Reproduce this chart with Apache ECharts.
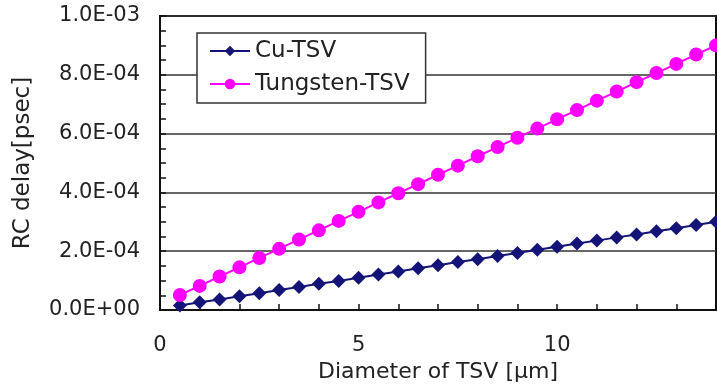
<!DOCTYPE html>
<html>
<head>
<meta charset="utf-8">
<script src="https://cdn.jsdelivr.net/npm/echarts@6/dist/echarts.min.js"></script>
<style>html,body{margin:0;padding:0;background:#fff}#c{width:717px;height:385px}</style>
</head>
<body>
<div id="c"></div>
<script>
var diameters = [0.5,1.0,1.5,2.0,2.5,3.0,3.5,4.0,4.5,5.0,5.5,6.0,6.5,7.0,7.5,8.0,8.5,9.0,9.5,10.0,10.5,11.0,11.5,12.0,12.5,13.0,13.5,14.0];
var cuDelay = [1.5e-5,2.6e-5,3.6e-5,4.7e-5,5.7e-5,6.8e-5,7.8e-5,8.9e-5,9.9e-5,1.10e-4,1.21e-4,1.31e-4,1.42e-4,1.52e-4,1.63e-4,1.73e-4,1.84e-4,1.94e-4,2.05e-4,2.15e-4,2.26e-4,2.36e-4,2.47e-4,2.57e-4,2.68e-4,2.78e-4,2.89e-4,3.00e-4];
var tungstenDelay = [5.1e-5,8.2e-5,1.14e-4,1.45e-4,1.77e-4,2.08e-4,2.40e-4,2.71e-4,3.03e-4,3.34e-4,3.66e-4,3.97e-4,4.28e-4,4.60e-4,4.91e-4,5.23e-4,5.54e-4,5.86e-4,6.17e-4,6.49e-4,6.80e-4,7.12e-4,7.43e-4,7.75e-4,8.06e-4,8.37e-4,8.69e-4,9.00e-4];
var seriesNames = ['Cu-TSV','Tungsten-TSV'];
var xTitle = 'Diameter of TSV [\u03bcm]';
var yTitle = 'RC delay[psec]';

function pairs(ys){ return diameters.map(function(d,i){ return [d, ys[i]]; }); }
function sci(v){
  if (Math.abs(v) < 1e-12) return '0.0E+00';
  var s = v.toExponential(1).split('e');
  var e = parseInt(s[1],10);
  var sign = e < 0 ? '-' : '+';
  var a = Math.abs(e);
  return s[0] + 'E' + sign + (a < 10 ? '0' + a : a);
}
var FONT = 'DejaVu Sans';
var chart = echarts.init(document.getElementById('c'));
chart.setOption({
  backgroundColor: '#fff',
  animation: false,
  grid: { left: 160, right: 1, top: 16, bottom: 75, show: true, borderColor: '#111', borderWidth: 2,
    backgroundColor: 'transparent', containLabel: false, outerBoundsMode: 'none' },
  legend: {
    orient: 'vertical', left: 197, top: 33,
    padding: [6, 16, 7, 12], itemGap: 9,
    itemWidth: 40, itemHeight: 13,
    backgroundColor: '#fff', borderColor: '#333', borderWidth: 1.5,
    textStyle: { fontFamily: FONT, fontSize: 23, color: '#222', lineHeight: 24 },
    data: seriesNames
  },
  xAxis: {
    type: 'value', min: 0, max: 14, interval: 1,
    name: xTitle, nameLocation: 'middle', nameGap: 51,
    nameTextStyle: { fontFamily: FONT, fontSize: 22, color: '#222' },
    axisLine: { lineStyle: { color: '#111', width: 2 } },
    axisTick: { inside: true, length: 6, lineStyle: { color: '#111', width: 1.5 } },
    axisLabel: { margin: 25, fontFamily: FONT, fontSize: 21, color: '#222',
      formatter: function(v){ return (v % 5 === 0 && v < 14) ? String(v) : ''; } },
    splitLine: { show: false }
  },
  yAxis: {
    type: 'value', min: 0, max: 1e-3, interval: 2e-4,
    name: yTitle, nameLocation: 'middle', nameGap: 125,
    nameTextStyle: { fontFamily: FONT, fontSize: 23, color: '#222' },
    axisLine: { show: true, lineStyle: { color: '#111', width: 2 } },
    axisTick: { show: true, inside: true, length: 6, lineStyle: { color: '#111', width: 1.5 } },
    minorTick: { show: true, splitNumber: 4, length: 6, lineStyle: { color: '#111', width: 1.5 } },
    axisLabel: { margin: 20, fontFamily: FONT, fontSize: 21, color: '#222', formatter: sci },
    splitLine: { show: true, lineStyle: { color: '#333', width: 1.5 } }
  },
  series: [
    { name: seriesNames[0], type: 'line', data: pairs(cuDelay),
      symbol: 'diamond', symbolSize: 14, color: '#141478',
      lineStyle: { width: 2, color: '#141478' }, itemStyle: { color: '#141478' } },
    { name: seriesNames[1], type: 'line', data: pairs(tungstenDelay),
      symbol: 'circle', symbolSize: 14, color: '#ff00ff',
      lineStyle: { width: 2, color: '#ff00ff' }, itemStyle: { color: '#ff00ff' } }
  ]
});
</script>
</body>
</html>
